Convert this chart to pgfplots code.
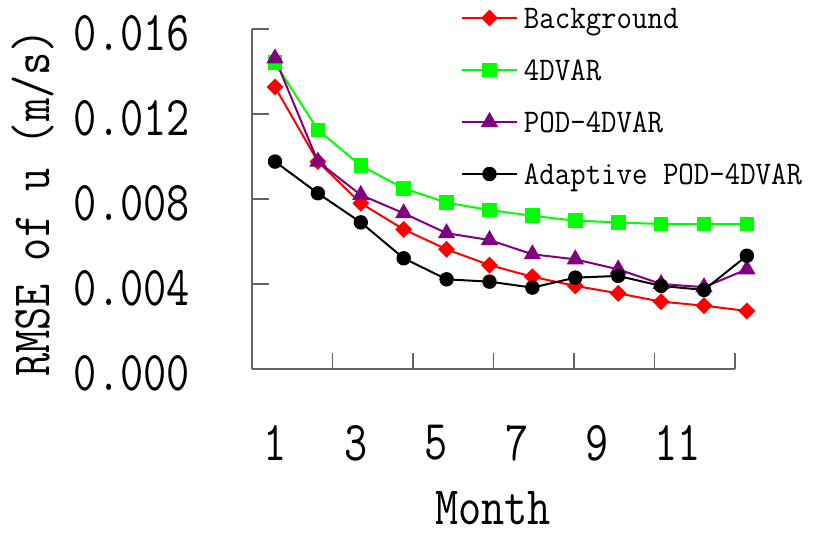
\documentclass[border=0pt]{standalone}
\usepackage{fontspec}
\usepackage{graphicx}
\usepackage{pgfplots}
\pgfplotsset{compat=1.18}
\usepackage{pgfplotstable}
\definecolor{mygreen}{RGB}{0,255,0}
\definecolor{mypurple}{RGB}{128,0,128}
\definecolor{axgray}{RGB}{100,100,100}

\pgfplotstableread{
m bg var pod ada
1 0.01327 0.01441 0.01462 0.00976
2 0.00976 0.01125 0.00976 0.00827
3 0.00780 0.00957 0.00819 0.00690
4 0.00657 0.00850 0.00733 0.00521
5 0.00563 0.00783 0.00639 0.00422
6 0.00489 0.00748 0.00607 0.00411
7 0.00434 0.00721 0.00540 0.00383
8 0.00391 0.00698 0.00516 0.00430
9 0.00356 0.00690 0.00469 0.00438
10 0.00317 0.00682 0.00400 0.00391
11 0.00298 0.00682 0.00385 0.00372
12 0.00273 0.00682 0.00469 0.00533
}\data

\newcommand{\tkl}[1]{\scalebox{1}[1.25]{#1}}
\newcommand{\axl}[1]{\scalebox{1}[1.2]{#1}}
\newcommand{\lgt}[1]{\scalebox{1}[1.1]{#1}}

\begin{document}
\begin{tikzpicture}
\path[use as bounding box] (0,0) rectangle (817bp,535bp);
\begin{axis}[
  at={(252bp,166bp)}, anchor=south west,
  width=483bp, height=340bp, scale only axis,
  xmin=0.5, xmax=12.5, ymin=0, ymax=0.016,
  clip=false,
  axis x line*=bottom, axis y line*=left,
  axis line style={draw=axgray, line width=1.3bp, -},
  every tick/.style={draw=axgray, line width=1.1bp},
  tick align=inside,
  xtick={1,3,5,7,9,11}, xticklabels={\tkl{1},\tkl{3},\tkl{5},\tkl{7},\tkl{9},\tkl{11}},
  major x tick style={draw=none},
  minor xtick={2.5,4.5,6.5,8.5,10.5,12.5},
  minor tick length=16bp,
  ytick={0,0.004,0.008,0.012,0.016},
  yticklabels={\tkl{0.000},\tkl{0.004},\tkl{0.008},\tkl{0.012},\tkl{0.016}},
  major tick length=17bp,
  scaled y ticks=false,
  ticklabel style={font=\fontsize{45bp}{45bp}\selectfont\ttfamily, inner sep=0pt},
  yticklabel style={anchor=east, xshift=-62bp, yshift=-4bp},
  xticklabel style={anchor=north, yshift=-56bp, xshift=3bp},
  xlabel={\axl{Month}},
  xlabel style={at={(axis description cs:0.499,-0.409)}, anchor=center, font=\fontsize{45bp}{45bp}\selectfont\ttfamily},
  ylabel={\axl{RMSE of u (m/s)}},
  ylabel style={at={(axis description cs:-0.453,0.488)}, anchor=center, font=\fontsize{45bp}{45bp}\selectfont\ttfamily},
  legend cell align=left,
  legend style={at={(axis description cs:0.4327,1.0647)}, anchor=north west, draw=none, fill=none, inner sep=0pt, outer sep=0pt,
    font=\fontsize{30bp}{36bp}\selectfont\ttfamily, row sep=25bp,
    /tikz/every odd column/.style={column sep=6bp},
    nodes={inner sep=0pt, text height=21bp, text depth=6bp}},
  legend image code/.code={\draw[mark repeat=2,mark phase=2,#1] plot coordinates {(0bp,2.5bp) (27.5bp,2.5bp) (55bp,2.5bp)};},
]
\addplot[red, line width=2bp, mark=square*, mark size=5bp, mark options={rotate=45, solid, fill=red}]
  table[x expr={1.06584*\thisrow{m}+0.0056}, y=bg] {\data};
\addlegendentry{\lgt{Background}}
\addplot[mygreen, line width=2bp, mark=square*, mark size=6.3bp, mark options={solid, fill=mygreen}]
  table[x expr={1.06584*\thisrow{m}+0.0056}, y=var] {\data};
\addlegendentry{\lgt{4DVAR}}
\addplot[mypurple, line width=2bp, mark=triangle*, mark size=8bp, mark options={solid, fill=mypurple}]
  table[x expr={1.06584*\thisrow{m}+0.0056}, y=pod] {\data};
\addlegendentry{\lgt{POD-4DVAR}}
\addplot[black, line width=2bp, mark=*, mark size=6.2bp, mark options={solid, fill=black}]
  table[x expr={1.06584*\thisrow{m}+0.0056}, y=ada] {\data};
\addlegendentry{\lgt{Adaptive POD-4DVAR}}
\end{axis}
\end{tikzpicture}
\end{document}
